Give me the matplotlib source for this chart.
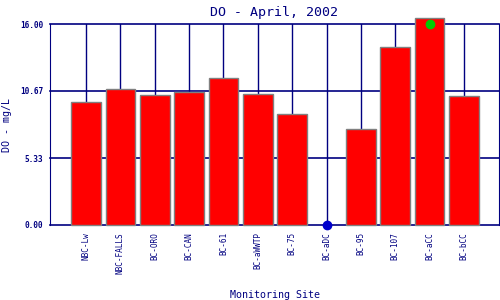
import matplotlib
matplotlib.use("Agg")
import matplotlib.pyplot as plt

sites = ["NBC-Lw", "NBC-FALLS", "BC-ORO", "BC-CAN", "BC-61", "BC-aWWTP",
         "BC-75", "BC-aDC", "BC-95", "BC-107", "BC-aCC", "BC-bCC"]
do_values = [9.77, 10.80, 10.32, 10.56, 11.68, 10.40,
             8.81, 0.0, 7.62, 14.15, 16.45, 10.25]
# extra point markers
green_site = "BC-aCC"
green_value = 16.0
blue_site = "BC-aDC"
blue_value = 0.0
yticks = [0.0, 5.33, 10.67, 16.0]

navy = "#000080"
plt.rcParams["font.family"] = ["DejaVu Sans Mono"]

fig = plt.figure(figsize=(5, 3), dpi=100)
ax = fig.add_axes([0.1, 0.25, 0.898, 0.67])

x = list(range(len(sites)))
ax.set_xlim(-1.05, 12.02)
ax.set_ylim(0, 16)

for xi in x:
    ax.axvline(xi, color=navy, lw=1, zorder=1)
for yv in yticks:
    ax.axhline(yv, color=navy, lw=1.2, zorder=1, clip_on=False)

bars = ax.bar(x, do_values, width=0.86, color="#ff0000", edgecolor="#808080",
              linewidth=1.0, zorder=2)
for b, v in zip(bars, do_values):
    b.set_clip_on(False)
    if v == 0:
        b.set_linewidth(0)

ax.plot(sites.index(green_site), green_value, "o", color="#00cc00", ms=6,
        zorder=4, clip_on=False)
ax.plot(sites.index(blue_site), blue_value, "o", color="#0000cc", ms=6,
        zorder=4, clip_on=False)

for s in ax.spines.values():
    s.set_visible(False)
for side in ["left", "right"]:
    ax.spines[side].set_visible(True)
    ax.spines[side].set_color(navy)

ax.set_xticks(x)
ax.set_xticklabels(sites, rotation=90, fontsize=5.6, color=navy)
ax.set_yticks(yticks)
ax.set_yticklabels(["%.2f" % v for v in yticks], fontsize=5.6, color=navy,
                   fontweight="bold")
ax.tick_params(length=0, pad=5)

ax.set_title("DO - April, 2002", fontsize=9.5, color=navy, pad=6)
ax.set_ylabel("DO - mg/L", fontsize=7.2, color=navy, labelpad=6)
ax.set_xlabel("Monitoring Site", fontsize=7.2, color=navy, labelpad=12)

fig.savefig("out.png", dpi=100, facecolor="white")
